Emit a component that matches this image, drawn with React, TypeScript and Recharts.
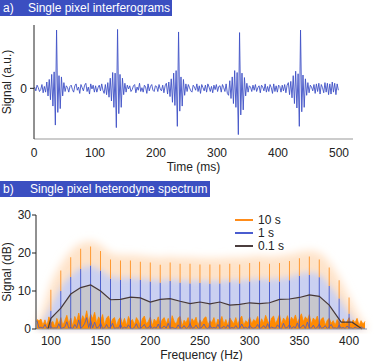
import { LineChart, Line, ComposedChart, Area, Bar, XAxis, YAxis, Legend } from 'recharts';

// ---- panel a: interferogram, sampled every 2 ms starting at 1 ms ----
const TIME_START = 1;
const TIME_STEP = 2;
const seg0 = [0.02, -0.04, 0.05, 0.01, -0.05, -0.02, 0.06, -0.07, 0.03, -0.06,
  0.1, -0.12, 0.14, -0.18, 0.22, -0.28, 0.26, -0.58, 0.92, -0.38,
  0.2, -0.32, 0.18, -0.12, 0.09, -0.05, 0.04, 0.01, -0.06, 0.03,
  0.05, -0.02, -0.06, 0.04, 0.07, -0.03, 0.02, -0.08, 0.06, 0.01,
  -0.04, 0.05, 0.08, -0.05, 0.02, -0.09, 0.07, -0.01, 0.05, -0.06];
const seg1 = [0.04, -0.06, 0.01, 0.05, -0.04, 0.07, -0.03, -0.08, 0.06, -0.1,
  0.09, -0.14, 0.16, -0.2, 0.25, -0.3, 0.24, -0.62, 0.93, -0.4,
  0.22, -0.3, 0.16, -0.1, 0.08, -0.06, 0.05, -0.01, 0.04, -0.05,
  -0.02, 0.04, 0.06, -0.07, 0.02, -0.03, 0.08, -0.05, 0.01, -0.06,
  0.05, 0.02, -0.08, 0.07, -0.04, 0.03, 0.06, -0.03, -0.05, 0.04];
const seg2 = [0.03, -0.05, 0.06, -0.01, -0.04, 0.05, -0.07, 0.04, 0.08, -0.09,
  0.1, -0.13, 0.15, -0.22, 0.24, -0.27, 0.28, -0.6, 0.89, -0.36,
  0.18, -0.28, 0.14, -0.11, 0.07, -0.05, 0.06, 0.01, -0.04, -0.06,
  0.05, 0.02, -0.03, 0.07, -0.05, 0.04, -0.08, 0.06, 0.01, -0.04,
  0.05, -0.06, 0.07, 0.02, -0.05, 0.03, -0.07, 0.05, -0.02, 0.06];
const seg3 = [-0.05, 0.03, 0.04, -0.06, 0.06, 0.01, -0.05, 0.07, -0.08, -0.11,
  0.12, -0.16, 0.18, -0.24, 0.28, -0.3, 0.25, -0.73, 0.88, -0.42,
  0.24, -0.34, 0.17, -0.12, 0.08, -0.06, 0.04, 0.02, -0.05, 0.05,
  -0.03, 0.06, -0.05, 0.01, 0.04, -0.07, 0.05, 0.02, -0.04, 0.07,
  -0.06, 0.03, -0.05, 0.06, 0.01, -0.08, 0.07, -0.05, 0.04, -0.06];
const seg4 = [0.05, 0.03, -0.06, 0.05, -0.04, 0.06, -0.07, 0.05, 0.09, -0.1,
  0.11, -0.15, 0.2, -0.24, 0.27, -0.31, 0.23, -0.6, 0.92, -0.37,
  0.21, -0.3, 0.15, -0.11, 0.09, -0.07, 0.05, 0.02, -0.04, 0.06,
  -0.08, 0.07, -0.05, 0.08, -0.09, 0.06, 0.01, -0.07, 0.09, -0.06,
  0.08, -0.1, 0.07, -0.09, 0.1, -0.06, 0.08, -0.1, 0.07, -0.03];
const timeTicks = [0, 100, 200, 300, 400, 500];

// ---- panel b: spectrum ----
const NOISE_START = 86;
const NOISE_STEP = 2;
const noise10s = [
  2.5, 2.2, 2.6, 1.0, 2.4, 0.8, 3.2, 1.5, 2.0, 0.6,
  2.8, 1.2, 3.0, 0.9, 2.2, 3.6, 1.4, 2.9, 0.7, 3.3,
  2.0, 4.2, 1.6, 3.5, 2.4, 4.8, 1.8, 3.9, 2.7, 4.4,
  1.5, 3.2, 2.1, 3.8, 1.0, 2.9, 3.4, 1.2, 2.6, 3.0,
  0.8, 2.4, 3.1, 1.3, 2.8, 0.9, 3.3, 1.9, 2.5, 1.1,
  3.0, 2.2, 0.7, 2.7, 3.4, 1.4, 2.0, 3.1, 0.9, 2.6,
  1.8, 3.2, 1.0, 2.5, 3.0, 1.3, 2.8, 0.8, 3.5, 2.0,
  1.2, 2.9, 3.3, 0.8, 2.3, 1.6, 3.0, 1.1, 2.7, 1.9,
  3.1, 0.9, 2.4, 1.5, 2.8, 3.2, 1.0, 2.2, 1.7, 3.0,
  0.8, 2.6, 1.9, 3.3, 1.2, 2.5, 0.9, 2.9, 2.1, 1.4,
  3.0, 1.1, 2.6, 3.4, 0.9, 2.2, 1.6, 3.1, 1.3, 2.5,
  2.0, 3.3, 1.0, 2.7, 1.5, 3.6, 2.2, 1.1, 2.9, 3.4,
  1.4, 2.5, 3.8, 1.2, 2.9, 2.0, 3.5, 1.5, 3.1, 2.3,
  3.7, 1.6, 2.8, 4.0, 1.9, 3.2, 2.4, 3.8, 1.3, 2.9,
  2.1, 3.4, 1.2, 2.6, 3.0, 1.0, 2.3, 2.8, 1.5, 2.2,
  1.0, 2.5, 1.8, 0.9, 2.7, 1.4, 2.0, 3.0, 1.1, 2.4,
  1.6, 2.8, 0.9, 2.2, 1.3, 2.0];
const noise1s = [
  2.2, 0.3, 0.5, 0.2, 1.2, 0.1, 0.4, 0.6, 0.2, 0.3,
  0.2, 1.4, 0.1, 0.3, 0.5, 1.9, 0.2, 0.4, 0.1, 1.2,
  0.3, 2.4, 0.2, 0.6, 1.5, 3.0, 0.4, 2.2, 0.3, 1.8,
  0.2, 0.5, 1.6, 0.1, 0.3, 1.2, 0.2, 0.4, 1.5, 0.1,
  0.3, 0.2, 1.3, 0.1, 0.5, 0.2, 1.1, 0.3, 0.1, 0.4,
  1.4, 0.2, 0.1, 0.6, 1.2, 0.2, 0.3, 1.0, 0.1, 0.5,
  0.2, 1.3, 0.1, 0.3, 0.8, 0.2, 1.5, 0.1, 0.4, 0.2,
  0.1, 1.1, 0.3, 0.2, 0.9, 0.1, 0.4, 1.4, 0.2, 0.3,
  1.0, 0.2, 0.1, 0.5, 1.3, 0.3, 0.1, 0.9, 0.2, 0.4,
  0.2, 1.2, 0.1, 0.3, 0.7, 0.2, 1.1, 0.1, 0.4, 0.2,
  0.9, 0.1, 0.3, 1.3, 0.2, 0.5, 0.1, 1.0, 0.3, 0.2,
  0.4, 1.2, 0.1, 0.3, 0.9, 0.2, 1.4, 0.1, 0.5, 0.3,
  0.2, 1.1, 0.3, 0.1, 1.5, 0.2, 0.4, 1.2, 0.1, 0.6,
  0.3, 1.6, 0.2, 0.5, 1.1, 0.1, 1.8, 0.3, 0.2, 1.0,
  0.1, 0.4, 1.3, 0.2, 0.3, 0.9, 0.1, 0.6, 1.2, 0.2,
  0.3, 0.1, 1.0, 0.2, 0.4, 0.1, 0.8, 0.2, 0.3, 0.1,
  0.5, 0.2, 0.1, 0.6, 0.2, 0.1];

const spikeFreqs = [100, 110, 120, 130, 140, 150, 160, 170, 180, 190, 200, 210, 220, 230, 240, 250,
  260, 270, 280, 290, 300, 310, 320, 330, 340, 350, 360, 370, 380, 390, 400];
const spike10s = [10.3, 15.4, 18.9, 21.1, 21.7, 20.5, 18.3, 18.0, 18.0, 17.7, 17.5, 16.9, 17.5, 17.2, 17.2, 17.0,
  17.0, 17.0, 17.2, 17.0, 17.4, 17.7, 17.2, 17.4, 17.9, 18.6, 19.1, 18.3, 16.2, 12.8, 8.3];
const spike1s = [4.8, 10.0, 13.7, 15.8, 16.7, 15.4, 13.2, 12.9, 13.2, 12.9, 12.5, 12.2, 12.6, 12.2, 12.0, 12.1,
  11.9, 12.0, 12.3, 12.0, 12.5, 12.8, 12.4, 12.5, 12.8, 14.0, 14.2, 13.6, 11.3, 8.0, 4.0];

const envFreqs = [85, 90, 100, 110, 120, 130, 140, 150, 160, 170, 180, 190, 200, 210, 220, 230, 240, 250,
  260, 270, 280, 290, 300, 310, 320, 330, 340, 350, 360, 370, 380, 390, 400, 410, 418];
const env10s = [0.5, 4, 12, 17, 20.5, 22.5, 23, 22, 20, 19.5, 19.5, 19.3, 19, 18.8, 19, 18.8, 18.8, 18.6,
  18.6, 18.6, 18.8, 18.8, 19, 19.2, 19, 19.2, 19.6, 20.2, 20.6, 20, 17.5, 13.5, 8.5, 3.5, 0.5];
const env1s = [0, 1.5, 6, 11, 14, 16, 16.5, 15.5, 13.8, 13.5, 13.5, 13.3, 13, 12.8, 13, 12.8, 12.7, 12.7,
  12.6, 12.6, 12.8, 12.8, 13, 13.2, 13.1, 13.3, 13.7, 14.5, 14.8, 14.3, 11.5, 8, 4, 1, 0];

const avgFreqs = [97, 100, 110, 120, 130, 140, 150, 160, 170, 180, 190, 200, 210, 220, 230, 240, 250,
  260, 270, 280, 290, 300, 310, 320, 330, 340, 350, 360, 370, 380, 392, 403, 413];
const avg01s = [0, 2.8, 5.5, 9.2, 10.9, 11.6, 10.0, 7.7, 7.8, 8.4, 8.2, 7.1, 7.8, 8.0, 7.3, 6.7, 7.1,
  6.6, 7.1, 6.3, 6.5, 6.9, 6.7, 6.9, 7.8, 7.9, 8.3, 9.0, 8.6, 6.3, 1.8, 1.8, 0];
const freqTicks = [100, 150, 200, 250, 300, 350, 400];
const dbTicks = [0, 10, 20, 30];

const legendItems = [
  { name: '10 s', color: '#ff8c1a' },
  { name: '1 s', color: '#4a5ccf' },
  { name: '0.1 s', color: '#4b3d3d' },
];

const timeData = [...seg0, ...seg1, ...seg2, ...seg3, ...seg4].map((v, i) => ({ t: TIME_START + TIME_STEP * i, v }));

const rows = new Map<number, any>();
const row = (f: number) => {
  if (!rows.has(f)) rows.set(f, { f });
  return rows.get(f);
};
noise10s.forEach((v, i) => { row(NOISE_START + NOISE_STEP * i).n10 = v; });
noise1s.forEach((v, i) => { row(NOISE_START + NOISE_STEP * i).n1 = v; });
spikeFreqs.forEach((f, i) => {
  row(f).s1 = spike1s[i];
  row(f).s10 = spike10s[i] - spike1s[i];
});
envFreqs.forEach((f, i) => {
  row(f).e10 = env10s[i];
  row(f).e1 = env1s[i];
});
avgFreqs.forEach((f, i) => { row(f).a = avg01s[i]; });
const specData = [...rows.values()].sort((a, b) => a.f - b.f);

const titleBar = (letter: string, text: string, top: number, width: number, textLeft: number) => (
  <div style={{ position: 'absolute', left: 0, top, width, height: 16, background: '#3b4fc1', color: '#fff', fontSize: 12 }}>
    <span style={{ position: 'absolute', left: 3, top: 1 }}>{letter}</span>
    <span style={{ position: 'absolute', left: textLeft, top: 1 }}>{text}</span>
  </div>
);

const tickStyle = { fontSize: 12, fill: '#222' };

const SpecLegend = () => (
  <div style={{ fontSize: 12, color: '#222' }}>
    {legendItems.map((it) => (
      <div key={it.name} style={{ display: 'flex', alignItems: 'center', height: 13 }}>
        <span style={{ display: 'inline-block', width: 18, height: 2, background: it.color, marginRight: 5 }} />
        <span>{it.name}</span>
      </div>
    ))}
  </div>
);

export default function App() {
  return (
    <div style={{ position: 'absolute', left: 0, top: 0, width: 374, height: 361, background: '#fff', fontFamily: '"Liberation Sans", Arial, sans-serif' }}>
      {titleBar('a)', 'Single pixel interferograms', 0, 172, 28)}
      <div style={{ position: 'absolute', left: 0, top: 0 }}>
        <LineChart width={374} height={180} data={timeData} margin={{ top: 25, right: 21, left: 0, bottom: 0 }}>
          <XAxis dataKey="t" type="number" domain={[0, 523]} ticks={timeTicks} height={41}
            tick={tickStyle} tickLine={false} tickSize={6} tickMargin={3} axisLine={{ stroke: '#999' }}
            label={{ value: 'Time (ms)', position: 'insideBottom', offset: 9, fontSize: 12, fill: '#222' }} />
          <YAxis type="number" domain={[-0.8, 1]} ticks={[0]} width={34} tick={tickStyle}
            tickSize={4} tickMargin={3} axisLine={{ stroke: '#222' }} tickLine={{ stroke: '#222' }}
            label={{ value: 'Signal (a.u.)', angle: -90, position: 'insideLeft', offset: 7, fontSize: 12, fill: '#222', style: { textAnchor: 'middle' } }} />
          <Line dataKey="v" stroke="#3f51c6" strokeWidth={0.9} dot={false} isAnimationActive={false} />
        </LineChart>
      </div>
      {titleBar('b)', 'Single pixel heterodyne spectrum', 181, 210, 30)}
      <div style={{ position: 'absolute', left: 0, top: 180 }}>
        <ComposedChart width={374} height={181} data={specData} margin={{ top: 35, right: 7, left: 0, bottom: 0 }}>
          <defs>
            <filter id="glow10" x="-20%" y="-30%" width="140%" height="135%">
              <feGaussianBlur stdDeviation="4.5" />
            </filter>
            <filter id="glow1" x="-20%" y="-30%" width="140%" height="135%">
              <feGaussianBlur stdDeviation="3" />
            </filter>
          </defs>
          <XAxis dataKey="f" type="number" domain={[85, 418]} ticks={freqTicks} height={32}
            tick={tickStyle} tickLine={false} tickSize={5} tickMargin={2} axisLine={{ stroke: '#999' }}
            label={{ value: 'Frequency (Hz)', position: 'insideBottom', offset: 2, fontSize: 12, fill: '#222' }} />
          <YAxis type="number" domain={[0, 30]} ticks={dbTicks} width={36} tick={tickStyle}
            tickSize={4} tickMargin={1} axisLine={{ stroke: '#222' }} tickLine={{ stroke: '#222' }}
            label={{ value: 'Signal (dB)', angle: -90, position: 'insideLeft', offset: 7, fontSize: 12, fill: '#222', style: { textAnchor: 'middle' } }} />
          <Legend layout="vertical" align="center" verticalAlign="middle" content={<SpecLegend />}
            wrapperStyle={{ top: 33, left: 235, width: 80 }} />
          <Area dataKey="e10" type="monotone" fill="#fee3c9" fillOpacity={1} stroke="none" connectNulls
            filter="url(#glow10)" isAnimationActive={false} />
          <Area dataKey="e1" type="monotone" fill="#cad0f1" fillOpacity={1} stroke="none" connectNulls
            filter="url(#glow1)" isAnimationActive={false} />
          <Area dataKey="a" type="linear" fill="#c7c7cd" fillOpacity={1} stroke="none" connectNulls isAnimationActive={false} />
          <Area dataKey="n10" type="linear" fill="#ff8a00" fillOpacity={1} stroke="#ff8a00" strokeWidth={0.8} connectNulls isAnimationActive={false} />
          <Bar dataKey="s1" stackId="spk" fill="#3f52c8" barSize={2} isAnimationActive={false} />
          <Bar dataKey="s10" stackId="spk" fill="#ff9020" barSize={2} isAnimationActive={false} />
          <Line dataKey="n1" type="linear" stroke="#4a5bc8" strokeWidth={0.8} dot={false} connectNulls isAnimationActive={false} />
          <Line dataKey="a" type="linear" stroke="#463838" strokeWidth={1.2} dot={false} connectNulls isAnimationActive={false} />
        </ComposedChart>
      </div>
    </div>
  );
}
